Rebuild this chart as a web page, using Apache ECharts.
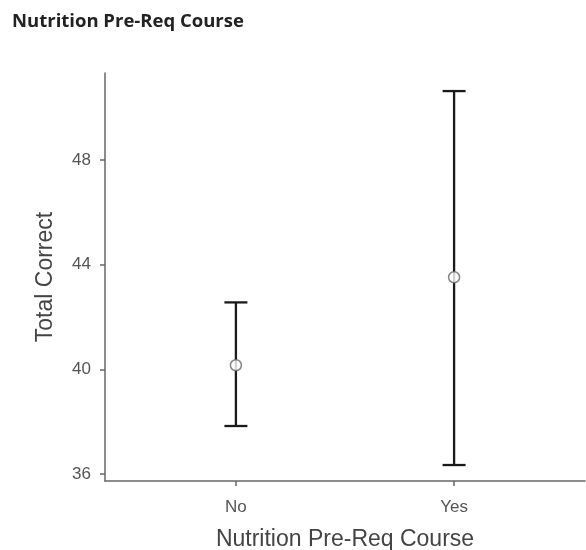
<!DOCTYPE html>
<html>
<head>
<meta charset="utf-8">
<script src="https://cdn.jsdelivr.net/npm/echarts@6/dist/echarts.min.js"></script>
<style>html,body{margin:0;padding:0;background:#fff}#c{width:586px;height:550px}</style>
</head>
<body>
<div id="c"></div>
<script>
var categories = ['No', 'Yes'];
var means = [40.16, 43.52];
var lower = [37.84, 36.35];
var upper = [42.56, 50.63];
var yTicks = [36, 40, 44, 48];

var chart = echarts.init(document.getElementById('c'));
var xPos = categories.map(function (c, i) { return i + 1; });
var errData = categories.map(function (c, i) { return [xPos[i], lower[i], upper[i]]; });
var ptData = categories.map(function (c, i) { return [xPos[i], means[i]]; });

chart.setOption({
  animation: false,
  title: {
    text: 'Nutrition Pre-Req Course',
    left: 12, top: 12, padding: 0,
    textStyle: { fontFamily: 'Open Sans', fontWeight: 'bold', fontSize: 18.5, color: '#222' }
  },
  grid: { left: 105, right: 1, top: 73, bottom: 69, outerBoundsMode: 'none', containLabel: false },
  xAxis: {
    type: 'value', min: 0.4, max: 2.6,
    name: 'Nutrition Pre-Req Course', nameLocation: 'middle', nameGap: 47,
    nameTextStyle: { fontFamily: 'Liberation Sans', fontSize: 23, color: '#444' },
    axisLine: { show: true, lineStyle: { color: '#666', width: 1.5 } },
    axisTick: { show: true, length: 5, customValues: xPos, lineStyle: { color: '#666', width: 1.5 } },
    axisLabel: {
      customValues: xPos, margin: 18,
      fontFamily: 'Liberation Sans', fontSize: 17, color: '#555',
      formatter: function (v) { return categories[Math.round(v) - 1] || ''; }
    },
    splitLine: { show: false }
  },
  yAxis: {
    type: 'value', min: 35.74, max: 51.32,
    name: 'Total Correct', nameLocation: 'middle', nameGap: 48, nameRotate: 90,
    nameTextStyle: { fontFamily: 'Liberation Sans', fontSize: 23, color: '#444' },
    axisLine: { show: true, lineStyle: { color: '#666', width: 1.5 } },
    axisTick: { show: true, length: 5, customValues: yTicks, lineStyle: { color: '#666', width: 1.5 } },
    axisLabel: { customValues: yTicks, margin: 14, fontFamily: 'Liberation Sans', fontSize: 17, color: '#555' },
    splitLine: { show: false }
  },
  series: [
    {
      type: 'custom',
      data: errData,
      renderItem: function (params, api) {
        var x = api.value(0);
        var lo = api.coord([x, api.value(1)]);
        var hi = api.coord([x, api.value(2)]);
        var hw = 11.5;
        var st = { stroke: '#1a1a1a', lineWidth: 2.3 };
        return {
          type: 'group',
          children: [
            { type: 'line', shape: { x1: lo[0], y1: lo[1], x2: hi[0], y2: hi[1] }, style: st },
            { type: 'line', shape: { x1: lo[0] - hw, y1: lo[1], x2: lo[0] + hw, y2: lo[1] }, style: st },
            { type: 'line', shape: { x1: hi[0] - hw, y1: hi[1], x2: hi[0] + hw, y2: hi[1] }, style: st }
          ]
        };
      },
      z: 2
    },
    {
      type: 'scatter',
      data: ptData,
      symbol: 'circle',
      symbolSize: 11,
      itemStyle: { color: '#fff', borderColor: '#666', borderWidth: 1.5 },
      z: 3
    }
  ]
});
</script>
</body>
</html>
